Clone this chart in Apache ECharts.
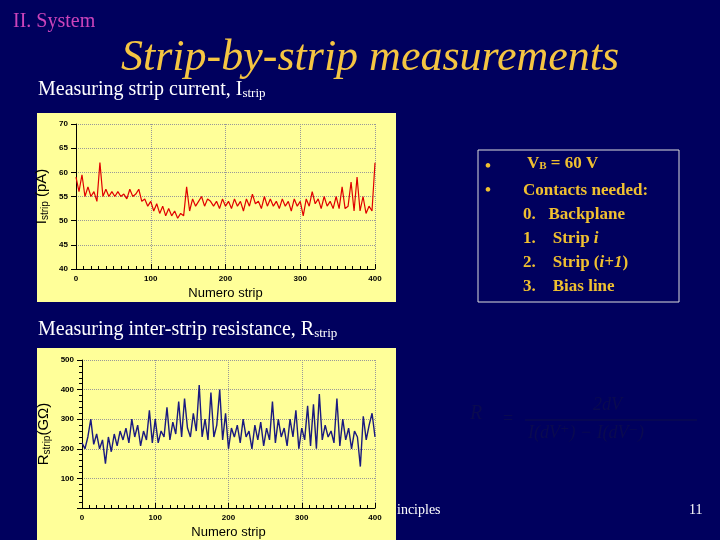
<!DOCTYPE html>
<html><head><meta charset="utf-8">
<script src="https://cdn.jsdelivr.net/npm/echarts@6/dist/echarts.min.js"></script>
<style>html,body{margin:0;padding:0;background:#00005e}#c{width:720px;height:540px}</style>
</head><body><div id="c"></div>
<script>
const stripX = [];
for (let i = 0; i <= 400; i += 4) stripX.push(i);
const currentPA = [59,56,59.5,55,57,55,56,54,62,55,56.5,55,56,55,56,55,55.5,54.5,56.5,55,55.5,56.5,54,54.5,53,54,52,53.5,51.5,53,51,52.5,51,52,50.5,51.5,51,57,52,54.5,53,54,55,53,54.5,54,53,54,52.5,54.5,53,54,52.5,54.5,53,54,52,54.5,53,55.5,53.5,54,52.5,55,53,54.5,53,54,52.5,54.5,53,54,52,54.5,53,54,51,54.5,53,56,53.5,54.5,52.5,55,53,54,52.5,55,52.5,57,52.5,53,58,52,59,52,55,51.5,53,52,62];
const resistanceGOhm = [220,200,240,300,215,250,200,230,150,240,190,250,210,260,230,270,220,300,240,280,210,260,230,330,220,300,220,260,240,340,230,290,250,360,240,370,270,240,320,260,415,240,300,230,390,240,280,400,230,320,200,270,240,280,220,300,240,260,200,280,230,290,210,270,230,360,220,300,240,270,210,300,240,330,200,270,230,345,210,350,200,385,230,280,240,260,220,370,210,300,230,270,200,260,240,140,310,230,280,320,240];
const xTicks = [0,100,200,300,400];

const chart = echarts.init(document.getElementById('c'));
const serif = '"Liberation Serif","DejaVu Serif",serif';
const sans = '"Liberation Sans",Arial,sans-serif';
const axisLab = {color:'#000',fontFamily:sans,fontSize:8,fontWeight:'bold'};
function xAxis(gi){return {type:'value',gridIndex:gi,min:0,max:400,interval:100,
  axisLine:{lineStyle:{color:'#000'}},axisTick:{inside:true,length:5,lineStyle:{color:'#000'}},
  minorTick:{show:true,splitNumber:10,length:3,lineStyle:{color:'#000'}},
  axisLabel:Object.assign({margin:6},axisLab),
  splitLine:{show:true,lineStyle:{color:'#999',type:'dotted'}},
  name:'Numero strip',nameLocation:'middle',nameGap:18,nameTextStyle:{color:'#000',fontFamily:sans,fontSize:13}};}
chart.setOption({
  backgroundColor:'#00005e',
  animation:false,
  graphic:[
    {type:'rect',shape:{x:37,y:113,width:359,height:189},style:{fill:'#ffff99'},z:-10},
    {type:'rect',shape:{x:37,y:348,width:359,height:192},style:{fill:'#ffff99'},z:-10},
    {type:'text',left:13,top:12,style:{text:'II. System',fill:'#cc44bb',font:'20px '+serif}},
    {type:'text',left:121,top:36,style:{text:'Strip-by-strip measurements',fill:'#f5c542',font:'italic 44px '+serif,shadowColor:'#000',shadowOffsetX:2,shadowOffsetY:2,shadowBlur:2}},
    {type:'text',left:38,top:80,style:{text:'{a|Measuring strip current, I}{s|strip}',rich:{a:{fill:'#fff',font:'20px '+serif},s:{fill:'#fff',font:'13px '+serif,padding:[8,0,0,0]}}}},
    {type:'text',left:38,top:320,style:{text:'{a|Measuring inter-strip resistance, R}{s|strip}',rich:{a:{fill:'#fff',font:'20px '+serif},s:{fill:'#fff',font:'13px '+serif,padding:[8,0,0,0]}}}},
    {type:'rect',shape:{x:478,y:150,width:201,height:152},style:{fill:'none',stroke:'#ddd',lineWidth:1}},
    {type:'text',left:485,top:155,style:{text:'•\n•',fill:'#f0c030',font:'bold 17px '+serif,lineHeight:24}},
    {type:'text',left:527,top:155,style:{text:'{b|V}{s|B}{b| = 60 V}',rich:{b:{fill:'#f0c030',font:'bold 17px '+serif},s:{fill:'#f0c030',font:'bold 11px '+serif,padding:[6,0,0,0]}}}},
    {type:'text',left:523,top:179,style:{text:'Contacts needed:\n0.   Backplane\n1.    Strip {i|i}\n2.    Strip ({i|i+1})\n3.    Bias line',fill:'#f0c030',font:'bold 17px '+serif,lineHeight:24,rich:{i:{fill:'#f0c030',font:'italic bold 17px '+serif}}}},
    {type:'text',left:470,top:404,style:{text:'R',fill:'#0a0a50',font:'italic 20px '+serif}},
    {type:'line',shape:{x1:525,y1:420,x2:697,y2:420},style:{stroke:'#0a0a50',lineWidth:1.5}},
    {type:'text',left:593,top:396,style:{text:'2dV',fill:'#0a0a50',font:'italic 18px '+serif}},
    {type:'text',left:528,top:424,style:{text:'I(dV⁺) − I(dV⁻)',fill:'#0a0a50',font:'italic 18px '+serif}},
    {type:'text',left:503,top:410,style:{text:'=',fill:'#0a0a50',font:'18px '+serif}},
    {type:'text',left:397,top:503,style:{text:'inciples',fill:'#fff',font:'14px '+serif}},
    {type:'text',left:689,top:503,style:{text:'11',fill:'#fff',font:'14px '+serif}}
  ],
  grid:[
    {left:76,top:124,width:299,height:145},
    {left:82,top:360,width:293,height:151}
  ],
  xAxis:[xAxis(0),xAxis(1)],
  yAxis:[
    {type:'value',gridIndex:0,min:40,max:70,interval:5,axisLine:{show:true,lineStyle:{color:'#000'}},
     axisTick:{show:true,lineStyle:{color:'#000'}},axisLabel:axisLab,
     splitLine:{show:true,lineStyle:{color:'#999',type:'dotted'}},
     name:'{a|I}{s|strip}{a| (pA)}',nameLocation:'middle',nameGap:26,nameRotate:90,
     nameTextStyle:{rich:{a:{color:'#000',fontFamily:sans,fontSize:15},s:{color:'#000',fontFamily:sans,fontSize:10,padding:[6,0,0,0]}}}},
    {type:'value',gridIndex:1,min:0,max:500,interval:100,axisLine:{show:true,lineStyle:{color:'#000'}},
     axisTick:{show:true,lineStyle:{color:'#000'}},minorTick:{show:true,splitNumber:5,lineStyle:{color:'#000'}},
     axisLabel:Object.assign({formatter:v=>v===0?'':v},axisLab),
     splitLine:{show:true,lineStyle:{color:'#999',type:'dotted'}},
     name:'{a|R}{s|strip}{a|(GΩ)}',nameLocation:'middle',nameGap:30,nameRotate:90,
     nameTextStyle:{rich:{a:{color:'#000',fontFamily:sans,fontSize:15},s:{color:'#000',fontFamily:sans,fontSize:10,padding:[6,0,0,0]}}}}
  ],
  series:[
    {type:'line',xAxisIndex:0,yAxisIndex:0,symbol:'none',lineStyle:{color:'#e00000',width:1.2},
     data:stripX.map((x,i)=>[x,currentPA[i]])},
    {type:'line',xAxisIndex:1,yAxisIndex:1,symbol:'none',lineStyle:{color:'#1a1a80',width:1.4},
     data:stripX.map((x,i)=>[x,resistanceGOhm[i]])}
  ]
});
</script></body></html>
